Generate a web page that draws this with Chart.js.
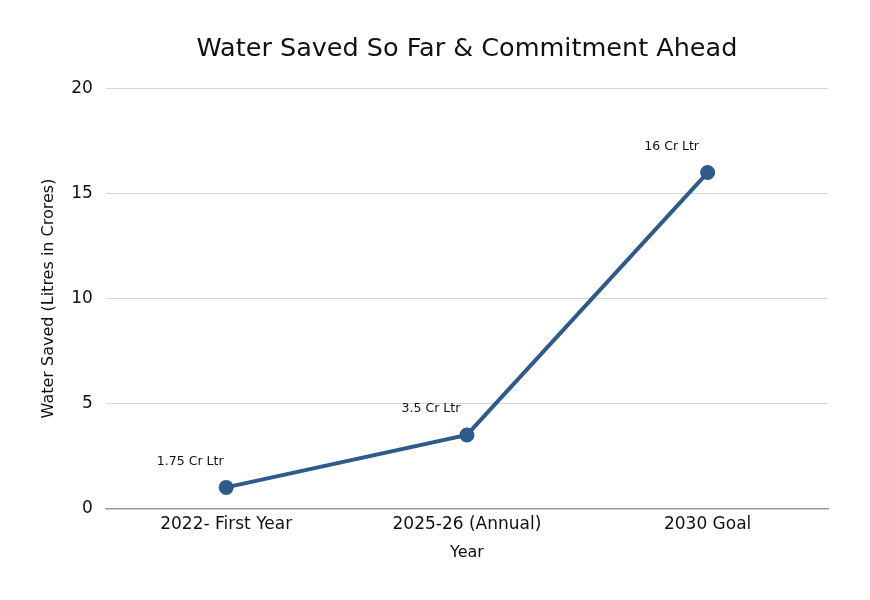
<!DOCTYPE html>
<html>
<head>
<meta charset="utf-8">
<script src="https://cdn.jsdelivr.net/npm/chart.js@4.4.1/dist/chart.umd.min.js"></script>
<style>
  html, body { margin: 0; padding: 0; background: #fff; }
  #wrap { width: 870px; height: 600px; }
</style>
</head>
<body>
<div id="wrap"><canvas id="chart"></canvas></div>
<script>
const categories = ['2022- First Year', '2025-26 (Annual)', '2030 Goal'];
const waterSaved = [1, 3.5, 16];
const pointLabels = ['1.75 Cr Ltr', '3.5 Cr Ltr', '16 Cr Ltr'];

const FONT = "'DejaVu Sans', 'Noto Sans', sans-serif";

// Draws the text label above and left of each point
const labelPlugin = {
  id: 'pointLabels',
  afterDatasetsDraw(chart) {
    const ctx = chart.ctx;
    const meta = chart.getDatasetMeta(0);
    ctx.save();
    ctx.font = '12.5px ' + FONT;
    ctx.fillStyle = '#111';
    ctx.textAlign = 'center';
    ctx.textBaseline = 'middle';
    meta.data.forEach((pt, i) => {
      ctx.fillText(pointLabels[i], pt.x - 36, pt.y - 26);
    });
    ctx.restore();
  }
};

const ctx = document.getElementById('chart').getContext('2d');
new Chart(ctx, {
  type: 'line',
  data: {
    labels: categories,
    datasets: [{
      label: 'Water Saved',
      data: waterSaved,
      borderColor: '#2f5b8b',
      backgroundColor: '#2f5b8b',
      borderWidth: 4,
      pointRadius: 5.5,
      pointHoverRadius: 5.5,
      tension: 0
    }]
  },
  options: {
    responsive: true,
    maintainAspectRatio: false,
    animation: false,
    layout: { padding: { left: 35, right: 42, top: 34, bottom: 34 } },
    plugins: {
      legend: { display: false },
      tooltip: { enabled: false },
      title: {
        display: true,
        fullSize: false,
        text: 'Water Saved So Far & Commitment Ahead',
        color: '#111',
        font: { family: FONT, size: 25.5, weight: 'normal' },
        padding: { top: 0, bottom: 24 }
      }
    },
    scales: {
      x: {
        offset: true,
        grid: { display: false, drawTicks: false },
        border: { display: true, color: '#999', width: 1.5 },
        ticks: { color: '#111', font: { family: FONT, size: 17 }, padding: 6 },
        title: { display: true, text: 'Year', color: '#111', font: { family: FONT, size: 16 }, padding: { top: 2 } }
      },
      y: {
        min: 0,
        max: 20,
        ticks: { stepSize: 5, color: '#111', font: { family: FONT, size: 17 }, padding: 13 },
        grid: { color: '#d6d6d6', drawTicks: false },
        border: { display: false },
        title: { display: true, text: 'Water Saved (Litres in Crores)', color: '#111', font: { family: FONT, size: 16 }, padding: { bottom: 0 } }
      }
    }
  },
  plugins: [labelPlugin]
});
</script>
</body>
</html>
